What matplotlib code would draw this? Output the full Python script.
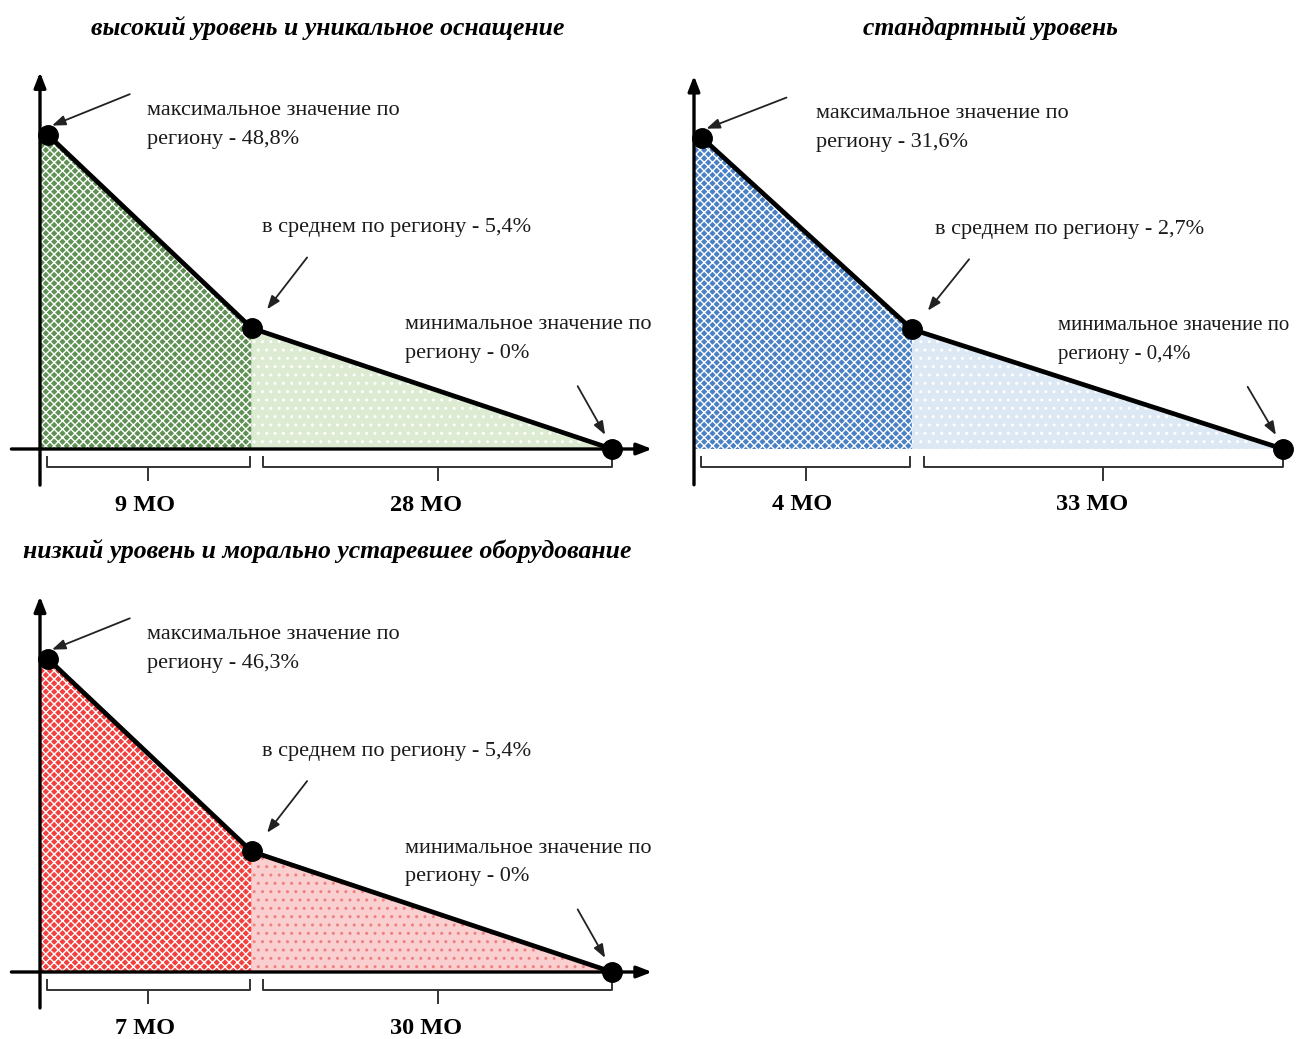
import matplotlib
matplotlib.use("Agg")
import matplotlib.pyplot as plt
from matplotlib.patches import Polygon

plt.rcParams["font.family"] = ["Liberation Serif", "DejaVu Serif"]
plt.rcParams["hatch.linewidth"] = 1.0

# данные схем
titles = ["высокий уровень и уникальное оснащение",
          "стандартный уровень",
          "низкий уровень и морально устаревшее оборудование"]
max_vals = ["48,8%", "31,6%", "46,3%"]
mean_vals = ["5,4%", "2,7%", "5,4%"]
min_vals = ["0%", "0,4%", "0%"]
left_counts = ["9 МО", "4 МО", "7 МО"]
right_counts = ["28 МО", "33 МО", "30 МО"]
dark_colors = ["#5f9155", "#4a80c4", "#f2403f"]
light_colors = ["#dcebd2", "#dde8f5", "#f9cfcf"]
dot_colors = ["white", "white", "#f08080"]

W, H = 1302, 1039
fig = plt.figure(figsize=(W / 100, H / 100), dpi=100)

# схематичная форма кривой (нормированные единицы)
shape_x = [0.014, 0.37, 1.0]
shape_y = [1.0, 0.385, 0.0]


def panel(i, box, origin, unit, dx=0, min_dx=0, min_fs=16):
    """box: (x0, y0, x1, y1) в пикселях, origin: пиксель начала координат, unit: пикселей на единицу"""
    x0, y0, x1, y1 = box
    ax = fig.add_axes([x0 / W, 1 - y1 / H, (x1 - x0) / W, (y1 - y0) / H])
    ox, oy = origin
    ux, uy = unit
    ax.set_xlim((x0 - ox) / ux, (x1 - ox) / ux)
    ax.set_ylim((oy - y1) / uy, (oy - y0) / uy)
    ax.axis("off")

    xm, ym = shape_x[1], shape_y[1]
    # заливки
    left = Polygon([(0, 0), (0, 1.0), (shape_x[0], 1.0), (xm, ym), (xm, 0)],
                   closed=True, facecolor=dark_colors[i], edgecolor="white",
                   hatch="xxxx", lw=0, zorder=1)
    right = Polygon([(xm, 0), (xm, ym), (1.0, 0)], closed=True,
                    facecolor=light_colors[i], edgecolor=dot_colors[i],
                    hatch="..", lw=0, zorder=1)
    ax.add_patch(left)
    ax.add_patch(right)

    # оси со стрелками
    ax.annotate("", xy=(0, 1.2), xytext=(0, -0.115),
                arrowprops=dict(arrowstyle="-|>,head_length=0.9,head_width=0.35",
                                color="black", lw=2.4, shrinkA=0, shrinkB=0), zorder=3)
    ax.annotate("", xy=(1.07, 0), xytext=(-0.05, 0),
                arrowprops=dict(arrowstyle="-|>,head_length=0.9,head_width=0.35",
                                color="black", lw=2.4, shrinkA=0, shrinkB=0), zorder=3)

    # кривая и точки
    ax.plot(shape_x, shape_y, color="black", lw=3.4, zorder=4, solid_capstyle="round")
    ax.plot(shape_x, shape_y, "o", color="black", ms=14, zorder=5)

    # подписи
    txt = dict(color="#1a1a1a", va="center", ha="left", linespacing=1.7)
    ax.text(0.187 + dx / ux, 1.033, "максимальное значение по\nрегиону - " + max_vals[i],
            fontsize=16, **txt)
    ax.text(0.388 + dx / ux, 0.705, "в среднем по региону - " + mean_vals[i],
            fontsize=16, **txt)
    ax.text(0.638 + min_dx / ux, 0.35, "минимальное значение по\nрегиону - " + min_vals[i],
            fontsize=min_fs, **txt)

    arrow = dict(arrowstyle="-|>,head_length=0.8,head_width=0.3", color="#222222", lw=1.3,
                 shrinkA=0, shrinkB=0)
    ax.annotate("", xy=(0.021, 1.03), xytext=(0.157, 1.13), arrowprops=arrow)
    ax.annotate("", xy=(0.397, 0.445), xytext=(0.467, 0.61), arrowprops=arrow)
    ax.annotate("", xy=(0.988, 0.045), xytext=(0.94, 0.2), arrowprops=arrow)

    # фигурные скобки
    br = dict(color="#333333", lw=1.4)
    for a, b in [(0.012, 0.367), (0.39, 1.0)]:
        ax.plot([a, a, b, b], [-0.025, -0.057, -0.057, -0.025], **br)
        c = (a + b) / 2
        ax.plot([c, c], [-0.057, -0.1], **br)
    ax.text(0.183, -0.18, left_counts[i], fontsize=17.5, fontweight="bold",
            ha="center", va="center")
    ax.text(0.675, -0.18, right_counts[i], fontsize=17.5, fontweight="bold",
            ha="center", va="center")
    return ax


panel(0, (0, 55, 660, 525), (40, 449), (572, 314))
panel(1, (655, 55, 1302, 525), (694, 449), (589, 311), dx=12, min_dx=-12, min_fs=15)
panel(2, (0, 578, 660, 1039), (40, 972), (572, 313))

ttl = dict(fontsize=18.5, fontweight="bold", fontstyle="italic", ha="center", va="center")
fig.text(328 / W, 1 - 28 / H, titles[0], **ttl)
fig.text(990 / W, 1 - 28 / H, titles[1], **ttl)
fig.text(327 / W, 1 - 551 / H, titles[2], **ttl)

fig.savefig("out.png", dpi=100)
